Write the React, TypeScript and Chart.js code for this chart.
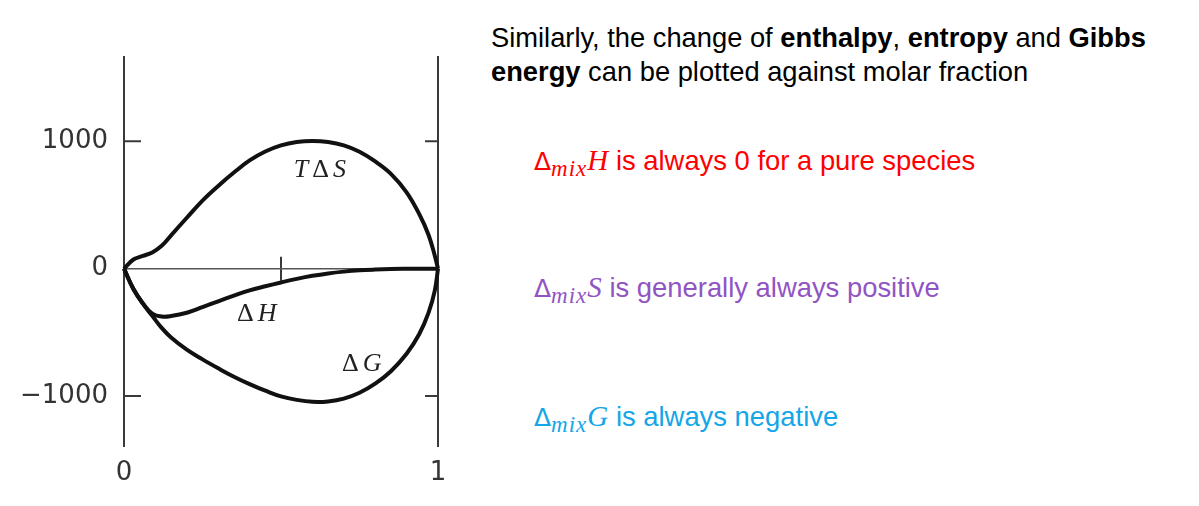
import { useEffect, useRef } from "react"
import Chart from "chart.js/auto"

// molar fraction (x) and the three mixing curves
const molarFraction = [0, 0.03, 0.06, 0.09, 0.12, 0.15, 0.2, 0.25, 0.3, 0.35, 0.4, 0.45, 0.5, 0.55, 0.6, 0.65, 0.7, 0.75, 0.8, 0.85, 0.9, 0.94, 0.97, 0.99, 1]
const tDeltaS = [0, 72, 100, 128, 180, 262, 400, 535, 650, 755, 850, 920, 968, 995, 1003, 995, 968, 918, 842, 745, 600, 430, 265, 100, 0]
const deltaH = [0, -160, -272, -352, -376, -372, -346, -302, -256, -212, -170, -138, -108, -80, -56, -37, -23, -13, -7, -3, -1, 0, 0, 0, 0]
const deltaG = [0, -160, -275, -370, -465, -540, -636, -712, -782, -848, -906, -958, -1003, -1030, -1045, -1042, -1020, -974, -903, -805, -668, -515, -345, -170, 0]

const yTicks = [-1000, 0, 1000]
const xTicks = [0, 1]
const frameTicks = [-1000, 1000]
const midTick = 0.5

const curveLabels = [
  { parts: [["T", true], ["Δ", false], ["S", true]] as [string, boolean][], x: 0.624, y: 775 },
  { parts: [["Δ", false], ["H", true]] as [string, boolean][], x: 0.4225, y: -355 },
  { parts: [["Δ", false], ["G", true]] as [string, boolean][], x: 0.7575, y: -748 },
]

const ink = "#111"
const axisInk = "#3a3a3a"

const toPoints = (ys: number[]) => molarFraction.map((x, i) => ({ x, y: ys[i] }))

const framePlugin = {
  id: "frame",
  beforeDatasetsDraw(chart: any) {
    const { ctx, chartArea, scales } = chart
    const xs = scales.x
    const ys = scales.y
    const x0 = xs.getPixelForValue(0)
    const x1 = xs.getPixelForValue(1)
    const zero = ys.getPixelForValue(0)
    ctx.save()
    ctx.strokeStyle = axisInk
    ctx.lineWidth = 2
    ctx.beginPath()
    ctx.moveTo(x0, chartArea.top)
    ctx.lineTo(x0, chartArea.bottom)
    ctx.moveTo(x1, chartArea.top)
    ctx.lineTo(x1, chartArea.bottom)
    frameTicks.forEach((v) => {
      const py = ys.getPixelForValue(v)
      ctx.moveTo(x0, py)
      ctx.lineTo(x0 + 17, py)
      ctx.moveTo(x1 - 13, py)
      ctx.lineTo(x1, py)
    })
    const mx = xs.getPixelForValue(midTick)
    ctx.moveTo(mx, zero - 12)
    ctx.lineTo(mx, zero + 12)
    ctx.stroke()
    ctx.lineWidth = 1.5
    ctx.strokeStyle = "#555"
    ctx.beginPath()
    ctx.moveTo(x0, zero)
    ctx.lineTo(x1, zero)
    ctx.stroke()
    ctx.restore()
  },
  afterDatasetsDraw(chart: any) {
    const { ctx, scales } = chart
    ctx.save()
    ctx.fillStyle = "#222"
    ctx.textBaseline = "middle"
    curveLabels.forEach((l) => {
      const fonts = l.parts.map(([, it]) => `${it ? "italic " : ""}26px "Liberation Serif", serif`)
      const widths = l.parts.map(([t], i) => {
        ctx.font = fonts[i]
        return ctx.measureText(t).width
      })
      const gap = 4
      const total = widths.reduce((a, b) => a + b, 0) + gap * (widths.length - 1)
      let px = scales.x.getPixelForValue(l.x) - total / 2
      const py = scales.y.getPixelForValue(l.y)
      l.parts.forEach(([t], i) => {
        ctx.font = fonts[i]
        ctx.fillText(t, px, py)
        px += widths[i] + gap
      })
    })
    ctx.restore()
  },
}

function MixingChart() {
  const ref = useRef<HTMLCanvasElement>(null)
  const chartRef = useRef<Chart | null>(null)

  useEffect(() => {
    if (!ref.current) return
    if (chartRef.current) chartRef.current.destroy()

    const line = (data: number[]) => ({
      data: toPoints(data),
      borderColor: ink,
      borderWidth: 4,
      pointRadius: 0,
      fill: false,
      tension: 0.4,
      clip: 6,
    })

    chartRef.current = new Chart(ref.current, {
      type: "line",
      data: { datasets: [line(tDeltaS), line(deltaH), line(deltaG)] },
      options: {
        animation: false,
        responsive: false,
        layout: { padding: { top: 56, right: 32, left: 0, bottom: 0 } },
        plugins: { legend: { display: false }, tooltip: { enabled: false } },
        scales: {
          x: {
            type: "linear",
            min: 0,
            max: 1,
            grid: { display: false, drawTicks: false },
            border: { display: false },
            afterBuildTicks: (s: any) => { s.ticks = xTicks.map((value) => ({ value })) },
            afterFit: (s: any) => { s.height = 59 },
            ticks: {
              color: "#333",
              font: { family: "DejaVu Sans", size: 26 },
              padding: 11,
              maxRotation: 0,
              autoSkip: false,
            },
          },
          y: {
            type: "linear",
            min: -1400,
            max: 1670,
            grid: { display: false, drawTicks: false },
            border: { display: false },
            afterBuildTicks: (s: any) => { s.ticks = yTicks.map((value) => ({ value })) },
            afterFit: (s: any) => { s.width = 124 },
            ticks: {
              color: "#333",
              font: { family: "DejaVu Sans", size: 26 },
              padding: 16,
              autoSkip: false,
              callback: (v) => (Number(v) < 0 ? "\u2212" + Math.abs(Number(v)) : String(v)),
            },
          },
        },
      },
      plugins: [framePlugin],
    })

    return () => { chartRef.current?.destroy() }
  }, [])

  return <canvas ref={ref} width={470} height={506} style={{ position: "absolute", left: 0, top: 0 }} />
}

const mathFont = '"Liberation Serif", "DejaVu Serif", serif'

function MixTerm({ sym }: { sym: string }) {
  return (
    <span style={{ fontFamily: mathFont, fontSize: 29 }}>
      <span style={{ fontFamily: '"DejaVu Sans", sans-serif', fontSize: 25 }}>Δ</span>
      <i style={{ fontSize: 23, verticalAlign: -6, letterSpacing: 1 }}>mix</i>
      <i>{sym}</i>
    </span>
  )
}

const noteStyle = {
  position: "absolute" as const,
  left: 534,
  fontSize: 27.4,
  lineHeight: "32px",
  whiteSpace: "nowrap" as const,
}

export default function App() {
  return (
    <div
      style={{
        position: "absolute",
        left: 0,
        top: 0,
        width: 1199,
        height: 506,
        background: "#fff",
        overflow: "hidden",
        fontFamily: '"Liberation Sans", Arial, sans-serif',
      }}
    >
      <MixingChart />
      <div
        style={{
          position: "absolute",
          left: 491,
          top: 21,
          fontSize: 27.3,
          lineHeight: "33.5px",
          color: "#000",
          whiteSpace: "nowrap",
        }}
      >
        Similarly, the change of <b>enthalpy</b>, <b>entropy</b> and <b>Gibbs</b>
        <br />
        <b>energy</b> can be plotted against molar fraction
      </div>
      <div style={{ ...noteStyle, top: 144, color: "#ff0000" }}>
        <MixTerm sym="H" /> is always 0 for a pure species
      </div>
      <div style={{ ...noteStyle, top: 271, color: "#9154c4" }}>
        <MixTerm sym="S" /> is generally always positive
      </div>
      <div style={{ ...noteStyle, top: 400, color: "#14a6e6" }}>
        <MixTerm sym="G" /> is always negative
      </div>
    </div>
  )
}
